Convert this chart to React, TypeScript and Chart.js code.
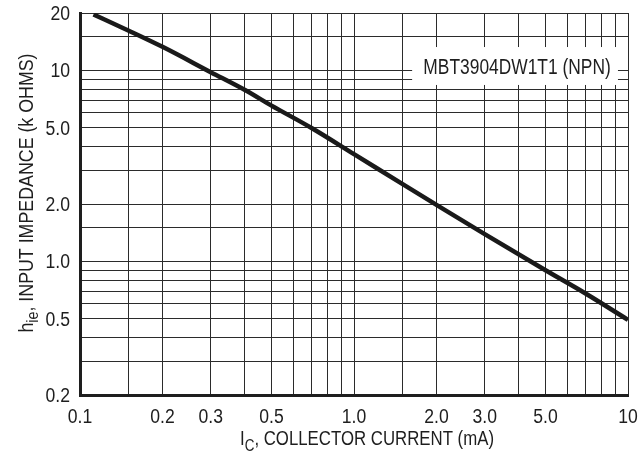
import React, { useEffect, useRef } from 'react';
import { Chart, registerables } from 'chart.js';

Chart.register(...registerables);

// Small-signal input impedance vs collector current (log-log)
const currentMA = [0.112, 0.15, 0.2, 0.3, 0.4, 0.5, 0.7, 1.0, 1.5, 2.0, 3.0, 5.0, 7.0, 10];
const impedanceKOhm = [19.65, 16.2, 13.3, 9.8, 7.9, 6.55, 5.0, 3.65, 2.55, 1.98, 1.39, 0.9, 0.68, 0.495];

// Grid lines
const xGrid = [0.1, 0.15, 0.2, 0.3, 0.4, 0.5, 0.6, 0.7, 0.8, 0.9, 1, 1.5, 2, 3, 4, 5, 6, 7, 8, 9, 10];
const yGrid = [0.2, 0.3, 0.4, 0.5, 0.6, 0.7, 0.8, 0.9, 1, 1.5, 2, 3, 4, 5, 6, 7, 8, 9, 10, 15, 20];

// Labelled ticks
const xTickValues = [0.1, 0.2, 0.3, 0.5, 1, 2, 3, 5, 10];
const xTickLabels = ['0.1', '0.2', '0.3', '0.5', '1.0', '2.0', '3.0', '5.0', '10'];
const yTickValues = [0.2, 0.5, 1, 2, 5, 10, 20];
const yTickLabels = ['0.2', '0.5', '1.0', '2.0', '5.0', '10', '20'];

const deviceLabel = 'MBT3904DW1T1 (NPN)';
// label box corners in data units (mA, kΩ)
const labelBoxX = [1.63, 9.19];
const labelBoxY = [8.4, 13.27];

const FONT = "'Liberation Sans', Arial, sans-serif";
const INK = '#1e1e1e';

type Run = { t: string; size: number; dy: number };

// Draws a horizontally condensed string (narrow grotesque look)
function narrowText(ctx: CanvasRenderingContext2D, text: string, x: number, y: number, size: number, sx: number, align: 'left' | 'center' | 'right') {
  ctx.save();
  ctx.font = `${size}px ${FONT}`;
  const w = ctx.measureText(text).width * sx;
  const left = align === 'center' ? x - w / 2 : align === 'right' ? x - w : x;
  ctx.translate(left, y);
  ctx.scale(sx, 1);
  ctx.textAlign = 'left';
  ctx.textBaseline = 'alphabetic';
  ctx.fillText(text, 0, 0);
  ctx.restore();
}

function narrowRuns(ctx: CanvasRenderingContext2D, runs: Run[], cx: number, baseline: number, sx: number) {
  let total = 0;
  for (const r of runs) {
    ctx.font = `${r.size}px ${FONT}`;
    total += ctx.measureText(r.t).width * sx;
  }
  let px = cx - total / 2;
  for (const r of runs) {
    ctx.font = `${r.size}px ${FONT}`;
    const w = ctx.measureText(r.t).width * sx;
    narrowText(ctx, r.t, px, baseline + r.dy, r.size, sx, 'left');
    px += w;
  }
}

const decorations = {
  id: 'decorations',
  beforeDatasetsDraw(chart: any) {
    const { ctx, scales } = chart;
    const x = scales.x;
    const y = scales.y;
    const x0 = x.getPixelForValue(labelBoxX[0]);
    const x1 = x.getPixelForValue(labelBoxX[1]);
    const y0 = y.getPixelForValue(labelBoxY[1]);
    const y1 = y.getPixelForValue(labelBoxY[0]);
    ctx.save();
    ctx.fillStyle = '#ffffff';
    ctx.fillRect(x0, y0, x1 - x0, y1 - y0);
    ctx.fillStyle = INK;
    narrowText(ctx, deviceLabel, (x0 + x1) / 2 + 2, (y0 + y1) / 2 + 8, 22, 0.79, 'center');
    ctx.restore();
  },
  afterDraw(chart: any) {
    const { ctx, chartArea, scales } = chart;
    ctx.save();
    ctx.fillStyle = INK;

    // tick labels
    xTickValues.forEach((v, i) => {
      narrowText(ctx, xTickLabels[i], scales.x.getPixelForValue(v), chartArea.bottom + 28, 20, 0.88, 'center');
    });
    yTickValues.forEach((v, i) => {
      narrowText(ctx, yTickLabels[i], chartArea.left - 10, scales.y.getPixelForValue(v) + 7, 20, 0.88, 'right');
    });

    // x-axis title
    narrowRuns(
      ctx,
      [
        { t: 'I', size: 20, dy: 0 },
        { t: 'C', size: 16, dy: 6 },
        { t: ', COLLECTOR CURRENT (mA)', size: 20, dy: 0 },
      ],
      (chartArea.left + chartArea.right) / 2 + 13,
      445,
      0.84
    );

    // y-axis title (rotated)
    ctx.translate(33, (chartArea.top + chartArea.bottom) / 2 - 11);
    ctx.rotate(-Math.PI / 2);
    narrowRuns(
      ctx,
      [
        { t: 'h', size: 20, dy: 0 },
        { t: 'ie', size: 16, dy: 5 },
        { t: ', INPUT IMPEDANCE (k OHMS)', size: 20, dy: 0 },
      ],
      0,
      0,
      0.89
    );
    ctx.restore();
  },
};

export default function App() {
  const canvasRef = useRef<HTMLCanvasElement | null>(null);

  useEffect(() => {
    const canvas = canvasRef.current;
    if (!canvas) return;
    const chart = new Chart(canvas, {
      type: 'line',
      data: {
        datasets: [
          {
            data: currentMA.map((c, i) => ({ x: c, y: impedanceKOhm[i] })),
            borderColor: '#1a1a1a',
            borderWidth: 4.5,
            pointRadius: 0,
            fill: false,
            cubicInterpolationMode: 'monotone',
            borderCapStyle: 'butt',
          },
        ],
      },
      options: {
        animation: false,
        responsive: false,
        events: [],
        layout: { padding: { top: 13, right: 12, left: 0, bottom: 0 } },
        plugins: { legend: { display: false }, tooltip: { enabled: false }, title: { display: false } },
        scales: {
          x: {
            type: 'logarithmic',
            min: 0.1,
            max: 10,
            afterBuildTicks: (s: any) => {
              s.ticks = xGrid.map((v) => ({ value: v }));
            },
            afterFit: (s: any) => {
              s.height = 63;
            },
            grid: { color: '#2b2b2b', lineWidth: 1, drawTicks: false },
            border: { display: true, color: INK, width: 3 },
            ticks: { display: false, autoSkip: false },
          },
          y: {
            type: 'logarithmic',
            min: 0.2,
            max: 20,
            afterBuildTicks: (s: any) => {
              s.ticks = yGrid.map((v) => ({ value: v }));
            },
            afterFit: (s: any) => {
              s.width = 80;
            },
            grid: { color: '#2b2b2b', lineWidth: 1, drawTicks: false },
            border: { display: true, color: INK, width: 3 },
            ticks: { display: false, autoSkip: false },
          },
        },
      },
      plugins: [decorations],
    } as any);
    return () => chart.destroy();
  }, []);

  return (
    <div style={{ position: 'fixed', left: 0, top: 0, width: 640, height: 458, background: '#fff' }}>
      <canvas ref={canvasRef} width={640} height={458} style={{ display: 'block' }} />
    </div>
  );
}
